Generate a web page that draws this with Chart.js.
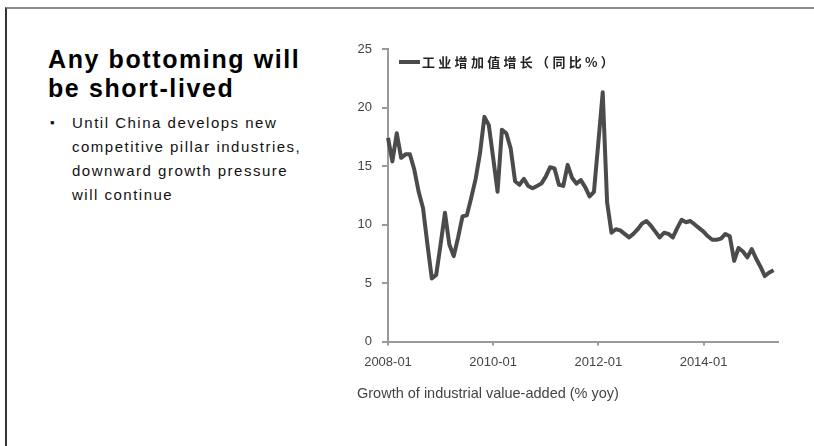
<!DOCTYPE html>
<html>
<head>
<meta charset="utf-8">
<script src="https://cdn.jsdelivr.net/npm/chart.js@4.4.1/dist/chart.umd.min.js"></script>
<style>
  html, body { margin: 0; padding: 0; background: #fff; }
  body { width: 814px; height: 446px; position: relative; overflow: hidden; font-family: "Liberation Sans", Arial, sans-serif; }
  .marco { position: absolute; left: 5px; top: 7px; right: 0; bottom: 0; border-top: 2px solid #8a8a8a; border-left: 2px solid #333; }
  .titulo { position: absolute; left: 48px; top: 45px; font-size: 25px; font-weight: bold; line-height: 29px; letter-spacing: 1.6px; color: #000; white-space: nowrap; }
  .punto { position: absolute; left: 50px; top: 111px; font-size: 13px; line-height: 24px; color: #111; }
  .texto { position: absolute; left: 72px; top: 111px; font-size: 15px; line-height: 24px; letter-spacing: 1.5px; color: #111; white-space: nowrap; }
  #contenedor { position: absolute; left: 350px; top: 30px; width: 440px; height: 382px; }
</style>
</head>
<body>
<div class="marco"></div>
<div class="titulo">Any bottoming will<br>be short-lived</div>
<div class="punto">▪</div>
<div class="texto">Until China develops new<br>competitive pillar industries,<br>downward growth pressure<br>will continue</div>
<div id="contenedor"><canvas id="ChartIVA" width="440" height="382"></canvas></div>

<script>
// Crecimiento mensual del valor agregado industrial (% interanual), 2008-01 a 2015-05
const anios = [2008, 2009, 2010, 2011, 2012, 2013, 2014, 2015];
const crecimiento2008 = [17.4, 15.4, 17.8, 15.7, 16.0, 16.0, 14.7, 12.8, 11.4, 8.3, 5.4, 5.7];
const crecimiento2009 = [8.3, 11.0, 8.3, 7.3, 8.9, 10.7, 10.8, 12.3, 13.9, 16.1, 19.2, 18.5];
const crecimiento2010 = [15.7, 12.8, 18.1, 17.8, 16.5, 13.7, 13.4, 13.9, 13.3, 13.1, 13.3, 13.5];
const crecimiento2011 = [14.1, 14.9, 14.8, 13.4, 13.3, 15.1, 14.0, 13.5, 13.8, 13.2, 12.4, 12.8];
const crecimiento2012 = [17.0, 21.3, 11.9, 9.3, 9.6, 9.5, 9.2, 8.9, 9.2, 9.6, 10.1, 10.3];
const crecimiento2013 = [9.9, 9.4, 8.9, 9.3, 9.2, 8.9, 9.7, 10.4, 10.2, 10.3, 10.0, 9.7];
const crecimiento2014 = [9.4, 9.0, 8.7, 8.7, 8.8, 9.2, 9.0, 6.9, 8.0, 7.7, 7.2, 7.9];
const crecimiento2015 = [7.1, 6.4, 5.6, 5.9, 6.1];
const etiquetasEje = ["2008-01", "2010-01", "2012-01", "2014-01"];
const valoresEjeY = [0, 5, 10, 15, 20, 25];
const serieNombre = "工业增加值增长（同比%）";
const pieGrafica = "Growth of industrial value-added (% yoy)";

const crecimientoIVA = [].concat(
  crecimiento2008, crecimiento2009, crecimiento2010, crecimiento2011,
  crecimiento2012, crecimiento2013, crecimiento2014, crecimiento2015
);

// Etiquetas mensuales "AAAA-MM"; el eje llega hasta 2015-06
const meses = [];
anios.forEach((anio) => {
  for (let m = 1; m <= 12; m++) {
    if (anio === 2015 && m > 6) break;
    meses.push(anio + "-" + String(m).padStart(2, "0"));
  }
});

const colorLinea = "#4b4b4b";
const colorEje = "#9a9a9a";
const fuenteEje = { family: "Liberation Sans", size: 13 };

// Leyenda dibujada dentro del area de la grafica (arriba a la izquierda)
const leyendaInterna = {
  id: "leyendaInterna",
  afterDatasetsDraw(chart) {
    const { ctx, chartArea } = chart;
    const ds = chart.data.datasets[0];
    const y = chartArea.top + 13;
    const x0 = chartArea.left + 11;
    ctx.save();
    ctx.strokeStyle = ds.borderColor;
    ctx.lineWidth = 4;
    ctx.beginPath();
    ctx.moveTo(x0, y);
    ctx.lineTo(x0 + 21, y);
    ctx.stroke();
    ctx.font = 'bold 13px "Noto Sans CJK SC"';
    ctx.letterSpacing = "3.3px";
    ctx.fillStyle = "#222";
    ctx.textBaseline = "middle";
    ctx.fillText(ds.label, x0 + 23, y);
    ctx.letterSpacing = "0px";
    ctx.restore();
  },
};

const ctx = document.getElementById("ChartIVA");

Line = new Chart(ctx, {
  type: "line",
  data: {
    labels: meses,
    datasets: [
      {
        label: serieNombre,
        data: crecimientoIVA,
        borderColor: colorLinea,
        backgroundColor: colorLinea,
        borderWidth: 4,
        borderJoinStyle: "round",
        pointRadius: 0,
        tension: 0,
        fill: false,
      },
    ],
  },
  options: {
    responsive: false,
    animation: false,
    devicePixelRatio: 1,
    layout: { padding: { top: 19, left: 7, right: 12, bottom: 0 } },
    scales: {
      x: {
        type: "category",
        grid: { display: true, drawOnChartArea: false, drawTicks: true, tickLength: 4, color: colorEje, tickColor: colorEje, lineWidth: 2 },
        border: { display: true, color: colorEje, width: 2 },
        ticks: {
          autoSkip: false,
          maxRotation: 0,
          padding: 9,
          color: "#444",
          font: fuenteEje,
          callback: (v, i) => (etiquetasEje.includes(meses[i]) ? meses[i] : null),
        },
        afterFit: (escala) => { escala.height = 29; },
      },
      y: {
        min: valoresEjeY[0],
        max: valoresEjeY[valoresEjeY.length - 1],
        grid: { display: true, drawOnChartArea: false, drawTicks: true, tickLength: 6, color: colorEje, tickColor: colorEje, lineWidth: 2 },
        border: { display: true, color: colorEje, width: 2 },
        ticks: { stepSize: 5, padding: 10, color: "#444", font: fuenteEje },
        afterFit: (escala) => { escala.width = 31; },
      },
    },
    plugins: {
      legend: { display: false },
      tooltip: { enabled: false },
      title: {
        display: true,
        text: pieGrafica,
        position: "bottom",
        align: "start",
        color: "#444",
        font: { family: "Liberation Sans", size: 14.5, weight: "normal" },
        padding: { top: 15, bottom: 9 },
      },
    },
  },
  plugins: [leyendaInterna],
});
</script>
</body>
</html>
